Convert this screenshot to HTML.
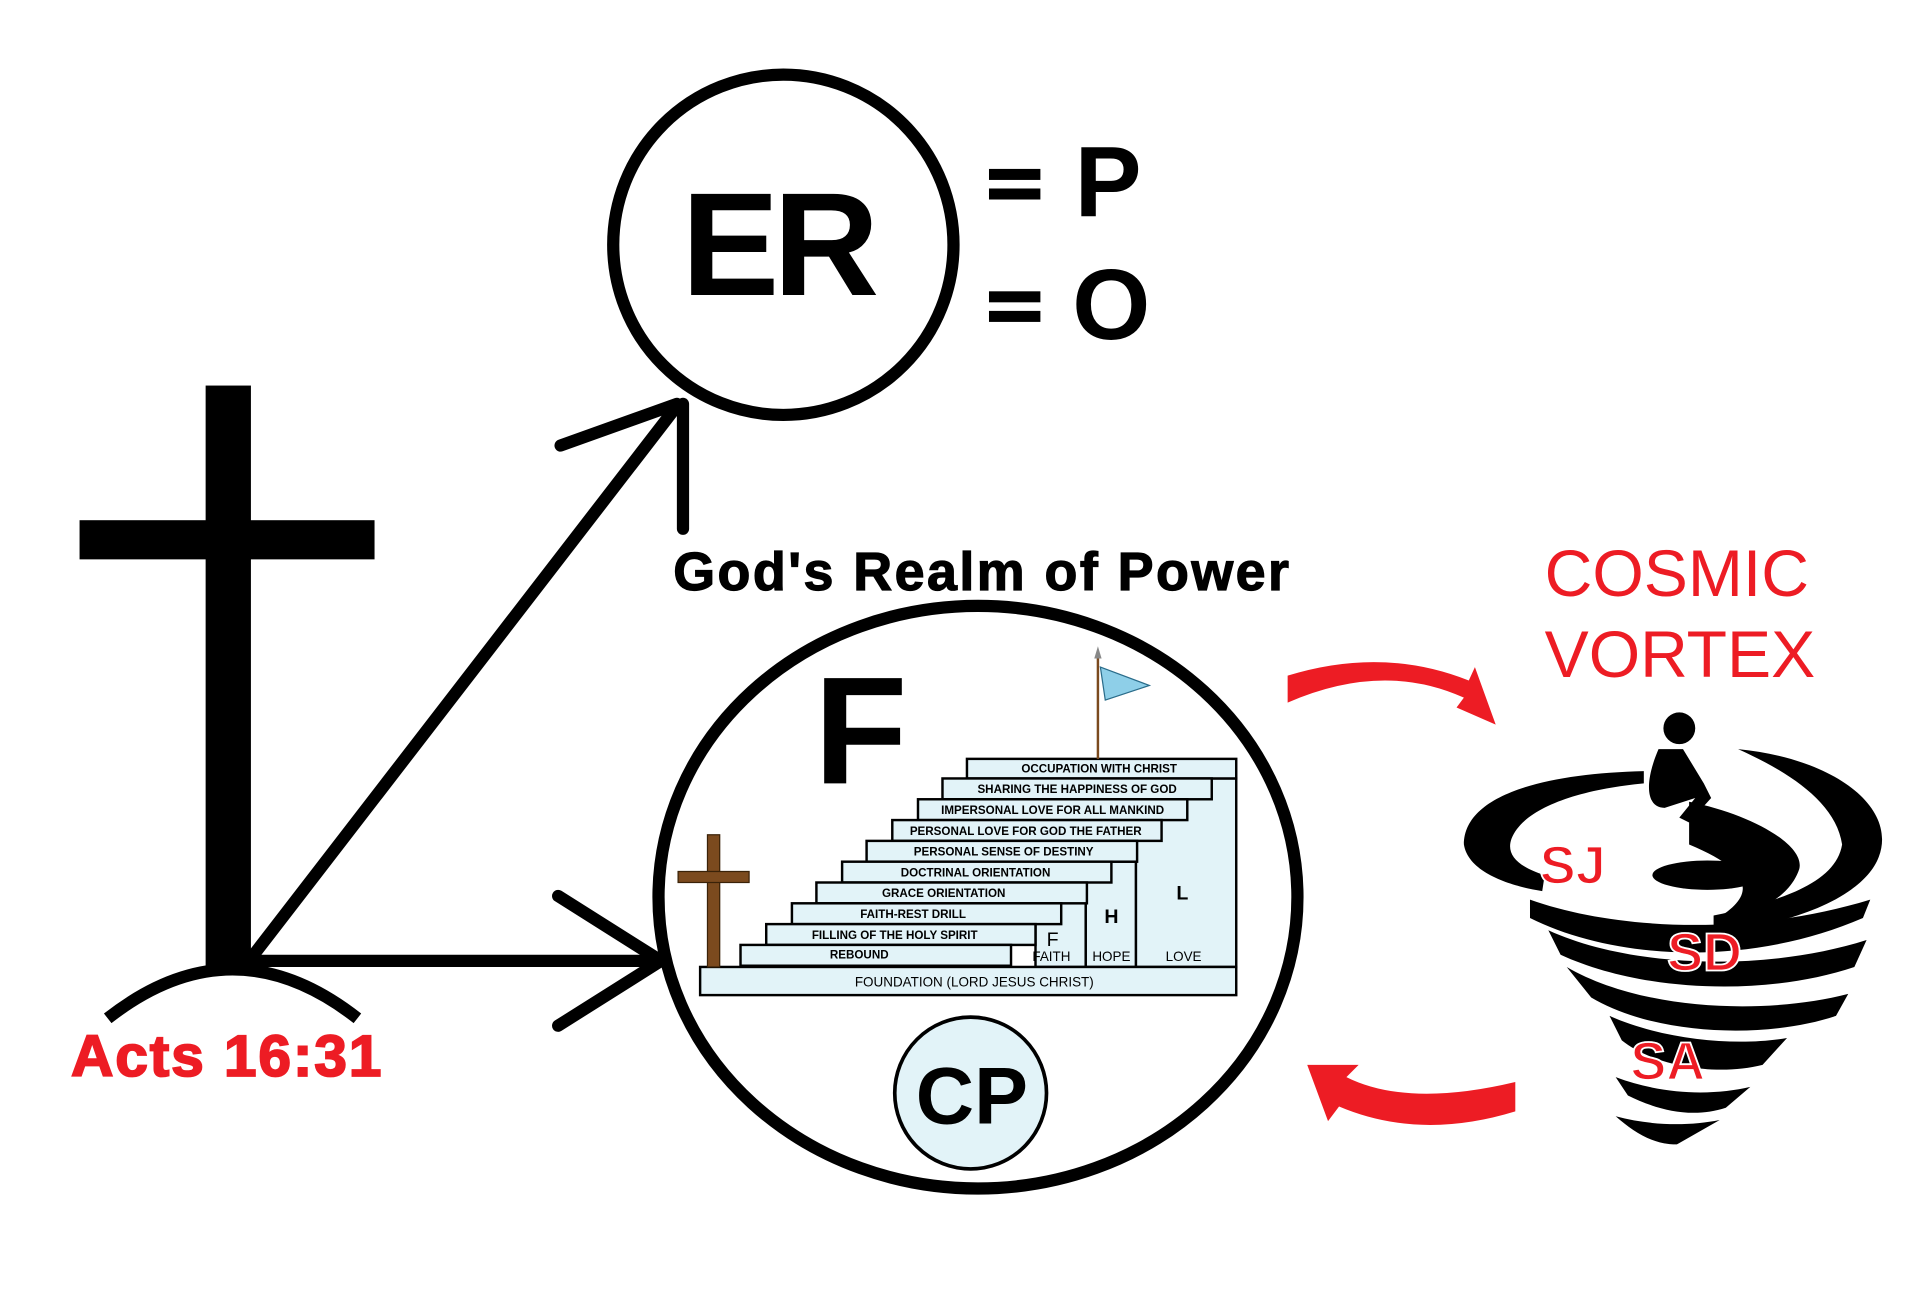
<!DOCTYPE html>
<html><head><meta charset="utf-8"><style>
html,body{margin:0;padding:0;background:#fff;width:1918px;height:1306px;overflow:hidden}
svg{display:block}
text{font-family:"Liberation Sans",sans-serif;font-weight:bold}
</style></head><body>
<svg width="1918" height="1306" viewBox="0 0 1567 1067" xmlns="http://www.w3.org/2000/svg">
<!-- ER circle -->
<circle cx="640" cy="200" r="139" fill="none" stroke="#000" stroke-width="10"/>
<text x="635" y="241" font-size="120" text-anchor="middle" letter-spacing="-5">ER</text>
<rect x="808" y="138" width="42" height="9"/><rect x="808" y="154" width="42" height="9"/>
<text x="878" y="177" font-size="82">P</text>
<rect x="808" y="238" width="42" height="9"/><rect x="808" y="254" width="42" height="9"/>
<text x="876" y="277" font-size="82">O</text>
<!-- cross -->
<rect x="168" y="315" width="37" height="475"/>
<rect x="65" y="425" width="241" height="32"/>
<path d="M88 832 Q190 752 292 832" fill="none" stroke="#000" stroke-width="10"/>
<text x="58" y="879" font-size="48" fill="#ed1c24" letter-spacing="1.5" stroke="#ed1c24" stroke-width="1.5">Acts 16:31</text>
<!-- lines -->
<g stroke="#000" stroke-width="10" stroke-linecap="round" fill="none">
<line x1="205" y1="783" x2="552" y2="333"/>
<line x1="458" y1="364" x2="553" y2="330"/>
<line x1="558" y1="330" x2="558" y2="432"/>
<line x1="205" y1="785" x2="538" y2="785"/>
<line x1="456" y1="732" x2="540" y2="785"/>
<line x1="456" y1="838" x2="540" y2="785"/>
</g>
<text x="550" y="482" font-size="44" letter-spacing="2" stroke="#000" stroke-width="1">God's Realm of Power</text>
<!-- big circle -->
<ellipse cx="799" cy="733" rx="261" ry="238" fill="none" stroke="#000" stroke-width="10"/>
<text x="665" y="640" font-size="125">F</text>
<!-- stairs -->
<g fill="#e2f3f8" stroke="#000" stroke-width="2">
<rect x="928" y="636" width="82" height="154"/>
<rect x="887" y="704" width="41" height="86"/>
<rect x="846" y="738" width="41" height="52"/>
<rect x="790" y="620" width="220" height="16"/>
<rect x="770" y="636" width="220" height="17"/>
<rect x="750" y="653" width="220" height="17"/>
<rect x="729" y="670" width="220" height="17"/>
<rect x="708" y="687" width="221" height="17"/>
<rect x="688" y="704" width="220" height="17"/>
<rect x="667" y="721" width="221" height="17"/>
<rect x="647" y="738" width="220" height="17"/>
<rect x="626" y="755" width="220" height="17"/>
<rect x="605" y="772" width="221" height="17"/>
<rect x="572" y="790" width="438" height="23"/>
</g>
<g font-size="9.5" text-anchor="middle">
<text x="898" y="631">OCCUPATION WITH CHRIST</text>
<text x="880" y="648">SHARING THE HAPPINESS OF GOD</text>
<text x="860" y="665">IMPERSONAL LOVE FOR ALL MANKIND</text>
<text x="838" y="682">PERSONAL LOVE FOR GOD THE FATHER</text>
<text x="820" y="699">PERSONAL SENSE OF DESTINY</text>
<text x="797" y="716">DOCTRINAL ORIENTATION</text>
<text x="771" y="733">GRACE ORIENTATION</text>
<text x="746" y="750">FAITH-REST DRILL</text>
<text x="731" y="767">FILLING OF THE HOLY SPIRIT</text>
<text x="702" y="783">REBOUND</text>
</g>
<g text-anchor="middle">
<text x="796" y="806" font-size="11" style="font-weight:normal">FOUNDATION  (LORD JESUS CHRIST)</text>
<text x="859" y="785" font-size="11" style="font-weight:normal">FAITH</text>
<text x="908" y="785" font-size="11" style="font-weight:normal">HOPE</text>
<text x="967" y="785" font-size="11" style="font-weight:normal">LOVE</text>
<text x="860" y="773" font-size="16" style="font-weight:normal">F</text>
<text x="908" y="754" font-size="16">H</text>
<text x="966" y="735" font-size="16">L</text>
</g>
<!-- small cross -->
<rect x="578" y="682" width="10" height="108" fill="#7b4a1e" stroke="#3a2208" stroke-width="1"/>
<rect x="554" y="712" width="58" height="9" fill="#7b4a1e" stroke="#3a2208" stroke-width="1"/>
<!-- flag -->
<line x1="897" y1="535" x2="897" y2="620" stroke="#7b4a1e" stroke-width="2"/>
<path d="M894 538 L897 528 L900 538Z" fill="#888"/>
<path d="M899 545 L939 560 L903 572Z" fill="#8ecfe8" stroke="#2a6c8a" stroke-width="1"/>
<!-- CP -->
<circle cx="793" cy="893" r="62" fill="#e2f3f8" stroke="#000" stroke-width="3"/>
<text x="794" y="918" font-size="66" text-anchor="middle">CP</text>
<!-- red arrows -->
<path d="M1052 574 Q1130 540 1196 570 L1190 578 L1222 592 L1205 545 L1200 556 Q1130 528 1052 552Z" fill="#ed1c24"/>
<path d="M1238 884 Q1150 905 1100 880 L1110 870 L1068 870 L1085 916 L1094 904 Q1160 932 1238 908Z" fill="#ed1c24"/>
<text x="1262" y="487" font-size="54" fill="#ed1c24" style="font-weight:normal">COSMIC</text>
<text x="1262" y="553" font-size="54" fill="#ed1c24" style="font-weight:normal">VORTEX</text>
<!-- tornado -->
<g fill="#000">
<path d="M1343 630 C1260 632 1196 650 1196 690 C1200 715 1240 725 1260 728 L1262 715 C1240 708 1230 698 1235 685 C1245 660 1290 645 1343 640Z"/>
<path d="M1420 612 C1500 620 1550 660 1535 700 C1520 740 1440 760 1400 760 L1400 748 C1460 735 1500 720 1505 690 C1500 655 1460 630 1420 612Z"/>
<path d="M1380 655 C1430 665 1475 690 1470 710 C1460 740 1420 750 1400 752 C1430 735 1440 715 1380 690Z"/>
<ellipse cx="1395" cy="715" rx="45" ry="12"/>
<path d="M1250 735 C1320 760 1430 765 1528 735 L1522 750 C1430 790 1320 785 1250 750Z"/>
<path d="M1265 760 C1330 790 1440 795 1525 768 L1515 790 C1440 815 1340 810 1275 780Z"/>
<path d="M1280 790 C1340 825 1440 830 1510 812 L1500 830 C1440 850 1350 845 1300 815Z"/>
<path d="M1315 830 C1360 850 1420 855 1460 848 L1440 870 C1400 880 1350 870 1325 850Z"/>
<path d="M1320 880 C1360 895 1400 895 1430 888 L1410 905 C1380 915 1350 905 1330 895Z"/>
<path d="M1320 912 C1350 920 1380 920 1405 915 L1370 935 C1350 935 1335 925 1320 912Z"/>
<circle cx="1372" cy="595" r="13"/>
<path d="M1355 612 L1375 612 L1392 640 L1398 652 L1380 672 L1372 668 L1385 652 L1360 660 C1345 660 1343 640 1355 612Z"/>
</g>
<g font-size="44" fill="#ed1c24" stroke="#fff" stroke-width="1.5">
<text x="1258" y="722">SJ</text>
<text x="1362" y="793">SD</text>
<text x="1332" y="882">SA</text>
</g>
</svg>
</body></html>
